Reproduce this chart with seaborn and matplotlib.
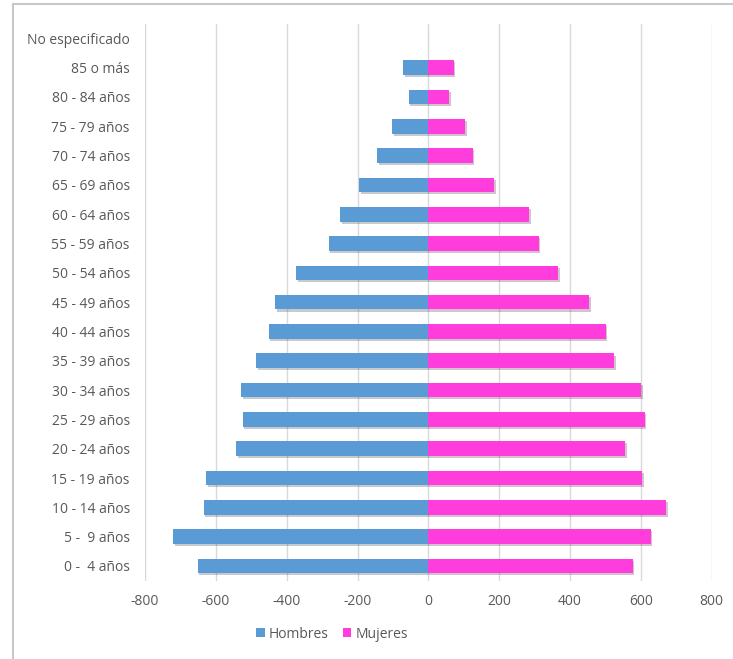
import pandas as pd
import matplotlib.pyplot as plt
import matplotlib.patheffects as pe
from matplotlib.lines import Line2D
import seaborn as sns

# age groups, top to bottom as in the chart
grupos = ["No especificado", "85 o más", "80 - 84 años", "75 - 79 años",
          "70 - 74 años", "65 - 69 años", "60 - 64 años", "55 - 59 años",
          "50 - 54 años", "45 - 49 años", "40 - 44 años", "35 - 39 años",
          "30 - 34 años", "25 - 29 años", "20 - 24 años", "15 - 19 años",
          "10 - 14 años", "5 -  9 años", "0 -  4 años"]
hombres = [2, 72, 56, 103, 144, 196, 249, 282, 373, 432, 451, 486,
           528, 525, 543, 627, 635, 720, 652]
mujeres = [2, 71, 59, 103, 125, 186, 284, 311, 366, 454, 500, 525,
           600, 611, 556, 604, 672, 628, 577]
ticks = [-800, -600, -400, -200, 0, 200, 400, 600, 800]

azul = "#5B9BD5"
rosa = "#FF3CDC"
gris_txt = "#595959"

df = pd.concat([
    pd.DataFrame({"grupo": grupos, "valor": [-v for v in hombres], "sexo": "Hombres"}),
    pd.DataFrame({"grupo": grupos, "valor": mujeres, "sexo": "Mujeres"}),
])

sns.set_style("white")
plt.rcParams["font.family"] = ["Open Sans", "DejaVu Sans"]

fig = plt.figure(figsize=(7.33, 6.59), dpi=100)
ax = fig.add_axes([0.198, 0.119, 0.773, 0.845])

sns.barplot(data=df, x="valor", y="grupo", hue="sexo", order=grupos,
            palette={"Hombres": azul, "Mujeres": rosa}, dodge=False,
            saturation=1, width=0.5, orient="h", ax=ax, legend=True,
            linewidth=0)

# soft shadow like the original, and a faint grey blip for "No especificado"
for cont in ax.containers:
    for bar in cont:
        bar.set_path_effects([pe.SimplePatchShadow(offset=(1.2, -1.5), alpha=0.25),
                              pe.Normal()])
        if abs(bar.get_y() + bar.get_height() / 2) < 0.01:
            bar.set_facecolor("#D6D6D6")
            bar.set_path_effects([])

ax.set_xlim(-800, 800)
ax.set_ylim(len(grupos) - 0.5, -0.5)
ax.set_xticks(ticks)
ax.set_xticklabels([str(t) for t in ticks])
ax.xaxis.grid(True, color="#D9D9D9", linewidth=1)
ax.set_axisbelow(True)
for s in ax.spines.values():
    s.set_visible(False)
ax.tick_params(axis="both", length=0, colors=gris_txt, labelsize=10)
ax.tick_params(axis="y", pad=11)
ax.tick_params(axis="x", pad=10)
ax.set_xlabel("")
ax.set_ylabel("")

handles, labels = ax.get_legend_handles_labels()
ax.legend(handles, labels, loc="center", bbox_to_anchor=(332 / 733, 1 - 634 / 659),
          bbox_transform=fig.transFigure, ncol=2, frameon=False,
          handlelength=0.6, handleheight=0.6, handletextpad=0.3,
          columnspacing=1.0, fontsize=10, labelcolor=gris_txt)

# outer chart frame (only top and left edges are inside the picture)
fx, fy = 13 / 733, 1 - 4 / 659
fig.add_artist(Line2D([fx, fx], [0, fy], transform=fig.transFigure,
                      color="#C8C8C8", linewidth=1.5))
fig.add_artist(Line2D([fx, 1], [fy, fy], transform=fig.transFigure,
                      color="#C8C8C8", linewidth=1.5))

fig.savefig("out.png", dpi=100)
